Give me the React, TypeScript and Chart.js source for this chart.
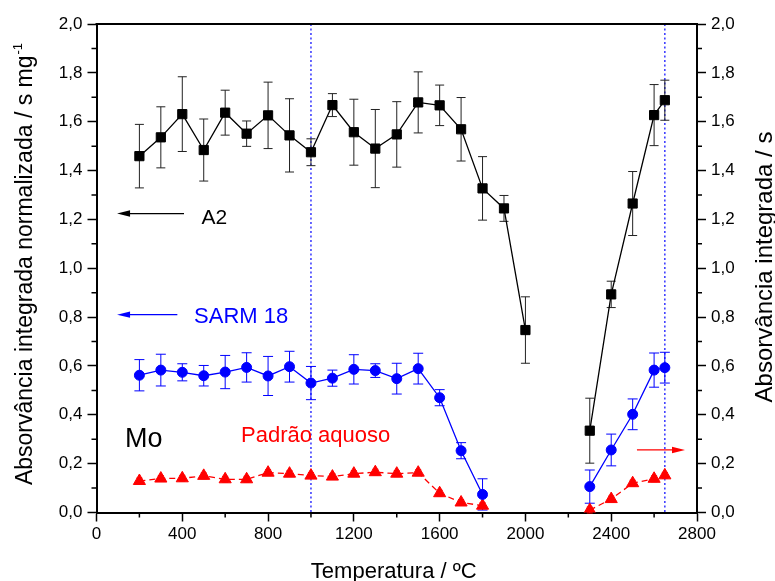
import React, { useEffect, useRef } from 'react';
import { Chart, registerables } from 'chart.js';

Chart.register(...registerables);

const FONT = '"Liberation Sans", Arial, Helvetica, sans-serif';

// ---- Data -------------------------------------------------------------
const TEMPS_A2 = [200, 300, 400, 500, 600, 700, 800, 900, 1000, 1100, 1200, 1300, 1400, 1500, 1600, 1700, 1800, 1900, 2000, 2300, 2400, 2500, 2600, 2650];
const A2_VALUES = [1.459, 1.536, 1.631, 1.484, 1.637, 1.551, 1.626, 1.544, 1.475, 1.668, 1.557, 1.490, 1.548, 1.679, 1.667, 1.569, 1.327, 1.245, 0.747, 0.335, 0.893, 1.265, 1.627, 1.688];
const A2_ERRORS = [0.13, 0.125, 0.153, 0.127, 0.092, 0.052, 0.136, 0.15, 0.055, 0.047, 0.135, 0.16, 0.134, 0.125, 0.083, 0.13, 0.13, 0.053, 0.136, 0.133, 0.054, 0.131, 0.125, 0.082];

const TEMPS_STD = [200, 300, 400, 500, 600, 700, 800, 900, 1000, 1100, 1200, 1300, 1400, 1500, 1600, 1700, 1800, 2300, 2400, 2500, 2600, 2650];
const SARM_VALUES = [0.562, 0.583, 0.574, 0.560, 0.575, 0.594, 0.559, 0.597, 0.530, 0.550, 0.586, 0.581, 0.548, 0.589, 0.470, 0.253, 0.074, 0.106, 0.256, 0.402, 0.583, 0.593];
const SARM_ERRORS = [0.064, 0.065, 0.035, 0.042, 0.068, 0.06, 0.08, 0.063, 0.068, 0.033, 0.06, 0.028, 0.063, 0.063, 0.033, 0.033, 0.064, 0.068, 0.065, 0.063, 0.07, 0.063];
const PADRAO_VALUES = [0.129, 0.139, 0.140, 0.150, 0.136, 0.136, 0.163, 0.159, 0.151, 0.147, 0.159, 0.165, 0.159, 0.163, 0.079, 0.041, 0.028, 0.010, 0.055, 0.120, 0.138, 0.152];
const PADRAO_ERRORS = [0.012, 0.012, 0.012, 0.012, 0.012, 0.012, 0.012, 0.012, 0.012, 0.012, 0.012, 0.012, 0.012, 0.012, 0.012, 0.012, 0.012, 0.012, 0.012, 0.012, 0.012, 0.012];

const REFERENCE_TEMPS = [1000, 2650];
const X_MINOR_TICKS = [200, 600, 1000, 1400, 1800, 2200, 2600];
const Y_MINOR_TICKS = [0.1, 0.3, 0.5, 0.7, 0.9, 1.1, 1.3, 1.5, 1.7, 1.9];

const X_TITLE = 'Temperatura / ºC';
const Y_TITLE = 'Absorvância integrada normalizada / s mg';
const Y_TITLE_SUP = '-1';
const Y2_TITLE = 'Absorvância integrada / s';

// annotation texts (positions in data coordinates)
const NOTES = [
  { text: 'A2', x: 490, y: 1.182, color: '#000', size: 21 },
  { text: 'SARM 18', x: 455, y: 0.777, color: '#0000ff', size: 22 },
  { text: 'Mo', x: 133, y: 0.269, color: '#000', size: 27 },
  { text: 'Padrão aquoso', x: 674, y: 0.287, color: '#ff0000', size: 22 },
];
const ARROWS = [
  { from: 408, to: 96, y: 1.224, color: '#000' },
  { from: 377, to: 96, y: 0.81, color: '#0000ff' },
  { from: 2520, to: 2744, y: 0.256, color: '#ff0000' },
];

// ---- Helpers ----------------------------------------------------------
const fmtComma = (v: number) => Number(v).toFixed(1).replace('.', ',');
const pts = (xs: number[], ys: number[]) => xs.map((x, i) => ({ x, y: ys[i] }));
const gapSegment = (color: string) => ({
  borderColor: (c: any) => (c.p1.parsed.x - c.p0.parsed.x > 250 ? 'rgba(0,0,0,0)' : color),
});

const ERROR_SETS = [
  { xs: TEMPS_A2, ys: A2_VALUES, errs: A2_ERRORS, color: '#222', cap: 4.5 },
  { xs: TEMPS_STD, ys: SARM_VALUES, errs: SARM_ERRORS, color: '#0000ff', cap: 5 },
  { xs: TEMPS_STD, ys: PADRAO_VALUES, errs: PADRAO_ERRORS, color: '#ff0000', cap: 3 },
];

function drawArrow(ctx: CanvasRenderingContext2D, x1: number, x2: number, y: number, color: string) {
  const dir = Math.sign(x2 - x1);
  const head = 13;
  const half = 3.2;
  ctx.strokeStyle = color;
  ctx.fillStyle = color;
  ctx.lineWidth = 1.3;
  ctx.beginPath();
  ctx.moveTo(x1, y);
  ctx.lineTo(x2 - dir * head * 0.7, y);
  ctx.stroke();
  ctx.beginPath();
  ctx.moveTo(x2, y);
  ctx.lineTo(x2 - dir * head, y - half);
  ctx.lineTo(x2 - dir * head, y + half);
  ctx.closePath();
  ctx.fill();
}

const decorPlugin = {
  id: 'decor',
  beforeDatasetsDraw(chart: any) {
    const { ctx, chartArea: a, scales } = chart;
    const xs = scales.x;
    const ys = scales.y;
    ctx.save();
    // reference dotted lines
    ctx.strokeStyle = '#3434ff';
    ctx.lineWidth = 1.5;
    ctx.setLineDash([2, 2.5]);
    for (const t of REFERENCE_TEMPS) {
      const px = xs.getPixelForValue(t);
      ctx.beginPath();
      ctx.moveTo(px, a.top);
      ctx.lineTo(px, a.bottom);
      ctx.stroke();
    }
    ctx.setLineDash([]);
    // error bars
    for (const s of ERROR_SETS) {
      ctx.strokeStyle = s.color;
      ctx.lineWidth = 1;
      s.xs.forEach((t: number, i: number) => {
        const px = xs.getPixelForValue(t);
        const top = ys.getPixelForValue(s.ys[i] + s.errs[i]);
        const bot = ys.getPixelForValue(s.ys[i] - s.errs[i]);
        ctx.beginPath();
        ctx.moveTo(px, top);
        ctx.lineTo(px, bot);
        ctx.moveTo(px - s.cap, top);
        ctx.lineTo(px + s.cap, top);
        ctx.moveTo(px - s.cap, bot);
        ctx.lineTo(px + s.cap, bot);
        ctx.stroke();
      });
    }
    ctx.restore();
  },
  afterDraw(chart: any) {
    const { ctx, chartArea: a, scales } = chart;
    const xs = scales.x;
    const ys = scales.y;
    ctx.save();
    // top frame line
    ctx.strokeStyle = '#000';
    ctx.lineWidth = 2;
    ctx.beginPath();
    ctx.moveTo(a.left - 1, a.top);
    ctx.lineTo(a.right + 1, a.top);
    ctx.stroke();
    // minor ticks
    ctx.lineWidth = 1.5;
    ctx.beginPath();
    for (const t of X_MINOR_TICKS) {
      const px = xs.getPixelForValue(t);
      ctx.moveTo(px, a.bottom);
      ctx.lineTo(px, a.bottom + 5);
    }
    for (const v of Y_MINOR_TICKS) {
      const py = ys.getPixelForValue(v);
      ctx.moveTo(a.left, py);
      ctx.lineTo(a.left - 5, py);
      ctx.moveTo(a.right, py);
      ctx.lineTo(a.right + 5, py);
    }
    ctx.stroke();

    // annotations
    ctx.textBaseline = 'alphabetic';
    ctx.textAlign = 'left';
    for (const n of NOTES) {
      ctx.font = `${n.size}px ${FONT}`;
      ctx.fillStyle = n.color;
      ctx.fillText(n.text, xs.getPixelForValue(n.x), ys.getPixelForValue(n.y));
    }
    for (const ar of ARROWS) {
      drawArrow(ctx, xs.getPixelForValue(ar.from), xs.getPixelForValue(ar.to), ys.getPixelForValue(ar.y), ar.color);
    }

    // axis titles
    ctx.fillStyle = '#000';
    ctx.font = `22px ${FONT}`;
    ctx.textAlign = 'center';
    ctx.fillText(X_TITLE, (a.left + a.right) / 2 - 3, 578);

    // left title with superscript
    ctx.save();
    ctx.translate(32, 264);
    ctx.rotate(-Math.PI / 2);
    ctx.font = `23px ${FONT}`;
    const wMain = ctx.measureText(Y_TITLE).width;
    ctx.font = `13px ${FONT}`;
    const wSup = ctx.measureText(Y_TITLE_SUP).width;
    const start = -(wMain + wSup + 1) / 2;
    ctx.textAlign = 'left';
    ctx.font = `23px ${FONT}`;
    ctx.fillText(Y_TITLE, start, 0);
    ctx.font = `13px ${FONT}`;
    ctx.fillText(Y_TITLE_SUP, start + wMain + 1, -10);
    ctx.restore();

    // right title
    ctx.save();
    ctx.translate(772, 267);
    ctx.rotate(-Math.PI / 2);
    ctx.font = `24px ${FONT}`;
    ctx.textAlign = 'center';
    ctx.fillText(Y2_TITLE, 0, 0);
    ctx.restore();

    ctx.restore();
  },
};

export default function App() {
  const ref = useRef<HTMLCanvasElement>(null);

  useEffect(() => {
    const tickFont = { family: FONT, size: 17 };
    const yScale = (position: 'left' | 'right', width: number) => ({
      type: 'linear' as const,
      position,
      min: 0,
      max: 2,
      ticks: { stepSize: 0.2, color: '#000', font: tickFont, padding: 5, callback: (v: any) => fmtComma(v) },
      grid: { drawOnChartArea: false, drawTicks: true, tickLength: 9, tickWidth: 1.5, tickColor: '#000' },
      border: { display: true, color: '#000', width: 2 },
      afterFit: (s: any) => {
        s.width = width;
      },
    });

    const chart = new Chart(ref.current as HTMLCanvasElement, {
      type: 'scatter',
      data: {
        datasets: [
          {
            label: 'A2',
            data: pts(TEMPS_A2, A2_VALUES),
            showLine: true,
            borderColor: '#000',
            backgroundColor: '#000',
            borderWidth: 1.3,
            pointStyle: 'rect',
            pointRadius: 6.5,
            pointBorderWidth: 1,
            pointBorderColor: '#000',
            pointBackgroundColor: '#000',
            segment: gapSegment('#000'),
            yAxisID: 'y',
          },
          {
            label: 'SARM 18',
            data: pts(TEMPS_STD, SARM_VALUES),
            showLine: true,
            borderColor: '#0000ff',
            backgroundColor: '#0000ff',
            borderWidth: 1.3,
            pointStyle: 'circle',
            pointRadius: 5,
            pointBorderWidth: 1,
            pointBorderColor: '#0000ff',
            pointBackgroundColor: '#0000ff',
            segment: gapSegment('#0000ff'),
            yAxisID: 'y',
          },
          {
            label: 'Padrão aquoso',
            data: pts(TEMPS_STD, PADRAO_VALUES),
            showLine: true,
            borderColor: '#ff0000',
            backgroundColor: '#ff0000',
            borderWidth: 1.3,
            borderDash: [6, 4],
            pointStyle: 'triangle',
            pointRadius: 7,
            pointBorderWidth: 1,
            pointBorderColor: '#ff0000',
            pointBackgroundColor: '#ff0000',
            segment: gapSegment('#ff0000'),
            yAxisID: 'y',
          },
        ],
      },
      options: {
        responsive: false,
        animation: false,
        devicePixelRatio: 1,
        layout: { padding: { top: 24, left: 0, right: 0, bottom: 0 } },
        plugins: { legend: { display: false }, tooltip: { enabled: false }, title: { display: false } },
        scales: {
          x: {
            type: 'linear',
            position: 'bottom',
            min: 0,
            max: 2800,
            ticks: { stepSize: 400, color: '#000', font: tickFont, padding: 3, maxRotation: 0, callback: (v: any) => String(v) },
            grid: { drawOnChartArea: false, drawTicks: true, tickLength: 9, tickWidth: 1.5, tickColor: '#000' },
            border: { display: true, color: '#000', width: 2 },
            afterFit: (s: any) => {
              s.height = 68.5;
            },
          },
          y: yScale('left', 96.5),
          y2: yScale('right', 78),
        },
      } as any,
      plugins: [decorPlugin],
    });
    return () => chart.destroy();
  }, []);

  return (
    <div style={{ position: 'absolute', left: 0, top: 0, width: 775, height: 581, background: '#fff' }}>
      <canvas ref={ref} width={775} height={581} style={{ display: 'block', width: 775, height: 581 }} />
    </div>
  );
}
